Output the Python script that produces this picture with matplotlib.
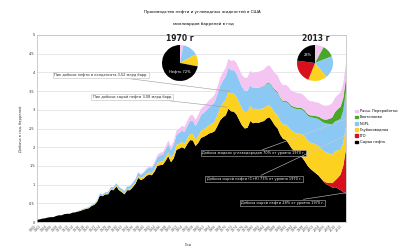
import matplotlib
matplotlib.use("Agg")
import matplotlib.pyplot as plt
from matplotlib.patches import Patch
import numpy as np

years = list(range(1900, 2014))

crude = [0.06,0.07,0.09,0.10,0.12,0.13,0.13,0.16,0.18,0.18,
         0.21,0.22,0.22,0.25,0.26,0.28,0.30,0.33,0.35,0.37,
         0.43,0.46,0.54,0.71,0.69,0.74,0.74,0.86,0.85,0.95,
         0.85,0.80,0.74,0.85,0.85,0.93,1.02,1.18,1.12,1.16,
         1.23,1.27,1.25,1.35,1.50,1.52,1.53,1.63,1.76,1.60,
         1.70,1.93,1.96,2.00,1.96,2.09,2.19,2.18,2.03,2.12,
         2.25,2.28,2.32,2.37,2.39,2.43,2.57,2.72,2.80,2.85,
         3.03,2.96,2.95,2.87,2.72,2.58,2.50,2.52,2.70,2.64,
         2.66,2.65,2.68,2.70,2.77,2.80,2.70,2.58,2.50,2.33,
         2.22,2.20,2.10,1.98,1.90,1.83,1.78,1.72,1.62,1.50,
         1.42,1.36,1.30,1.24,1.15,1.06,1.00,0.97,0.92,0.93,
         0.90,0.85,0.80,0.75]

lto = [0]*105 + [0.03,0.05,0.08,0.12,0.18,0.28,0.42,0.70,1.20]

cond = [0]*10 + \
       [0,0,0,0,0,0.005,0.01,0.01,0.01,0.01,
        0.01,0.01,0.015,0.02,0.02,0.02,0.02,0.025,0.03,0.03,
        0.03,0.03,0.03,0.035,0.035,0.04,0.045,0.05,0.05,0.055,
        0.06,0.06,0.06,0.07,0.08,0.09,0.09,0.10,0.11,0.11,
        0.12,0.13,0.13,0.14,0.14,0.15,0.16,0.17,0.17,0.18,
        0.19,0.20,0.21,0.22,0.24,0.26,0.30,0.34,0.38,0.42,
        0.46,0.47,0.48,0.47,0.46,0.45,0.44,0.42,0.40,0.38,
        0.37,0.36,0.35,0.34,0.33,0.33,0.33,0.34,0.35,0.36,
        0.38,0.41,0.44,0.47,0.50,0.54,0.58,0.62,0.66,0.68,
        0.70,0.74,0.77,0.79,0.80,0.80,0.80,0.78,0.76,0.78,
        0.74,0.66,0.62,0.60]

ngpl = [0]*10 + \
       [0,0,0,0,0.005,0.01,0.01,0.015,0.015,0.02,
        0.02,0.02,0.025,0.03,0.03,0.035,0.04,0.045,0.05,0.06,
        0.06,0.06,0.06,0.065,0.07,0.075,0.08,0.09,0.09,0.10,
        0.11,0.12,0.13,0.14,0.15,0.17,0.18,0.20,0.22,0.22,
        0.24,0.27,0.29,0.30,0.31,0.33,0.35,0.36,0.37,0.40,
        0.42,0.44,0.46,0.48,0.50,0.52,0.55,0.58,0.60,0.62,
        0.63,0.63,0.63,0.62,0.60,0.58,0.57,0.57,0.56,0.56,
        0.56,0.57,0.57,0.58,0.59,0.58,0.58,0.59,0.60,0.60,
        0.60,0.61,0.62,0.63,0.64,0.65,0.66,0.66,0.65,0.66,
        0.68,0.69,0.70,0.72,0.74,0.76,0.78,0.79,0.80,0.80,
        0.80,0.82,0.86,0.95]

bio = [0]*81 + \
      [0.005,0.01,0.015,0.02,0.025,0.025,0.03,0.03,0.03,
       0.03,0.03,0.035,0.035,0.04,0.04,0.035,0.04,0.045,0.045,
       0.05,0.055,0.06,0.07,0.08,0.09,0.11,0.14,0.20,0.25,
       0.30,0.33,0.33,0.35]

gain = [0]*30 + \
       [0,0,0,0,0,0.005,0.01,0.015,0.02,0.02,
        0.03,0.035,0.04,0.05,0.06,0.07,0.07,0.08,0.09,0.09,
        0.10,0.11,0.12,0.13,0.13,0.14,0.15,0.15,0.16,0.17,
        0.17,0.18,0.18,0.19,0.19,0.20,0.20,0.21,0.22,0.23,
        0.24,0.25,0.27,0.29,0.30,0.32,0.34,0.36,0.38,0.40,
        0.42,0.43,0.44,0.44,0.45,0.45,0.45,0.44,0.44,0.43,
        0.42,0.42,0.41,0.40,0.40,0.39,0.39,0.38,0.38,0.38,
        0.38,0.38,0.37,0.37,0.37,0.37,0.37,0.37,0.38,0.38,
        0.38,0.38,0.39,0.40]

series_names = ["Сырая нефть", "LTO", "Глубоководная", "NGPL", "Биотопливо", "Расш. Переработки"]
colors = ["#000000", "#d8101c", "#fdd120", "#8cc8f4", "#4aa62a", "#f4c4f2"]

pie1970_vals = [3, 14, 11, 72]
pie1970_cols = ["#f4c4f2", "#8cc8f4", "#fdd120", "#000000"]
pie2013_vals = [8, 11, 20, 17, 21, 23]
pie2013_cols = ["#f4c4f2", "#4aa62a", "#8cc8f4", "#fdd120", "#d8101c", "#000000"]

W, H = 398, 246
fig = plt.figure(figsize=(W/100, H/100), dpi=100)
fig.patch.set_facecolor("white")

def px(x0, y0, x1, y1):
    return [x0/W, 1 - y1/H, (x1-x0)/W, (y1-y0)/H]

ax = fig.add_axes(px(37, 35, 346, 222))
ax.stackplot(years, crude, lto, cond, ngpl, bio, gain, colors=colors, linewidth=0)
ax.set_xlim(1900, 2013)
ax.set_ylim(0, 5)
ax.set_yticks(np.arange(0, 5.01, 0.5))
ax.set_yticklabels(["0", "0.5", "1", "1.5", "2", "2.5", "3", "3.5", "4", "4.5", "5"], fontsize=2.6, color="#333333")
ax.set_xticks(list(range(1900, 2013, 2)))
ax.set_xticklabels([str(y) for y in range(1900, 2013, 2)], rotation=45, fontsize=2.3, color="#555555", ha="right")
ax.tick_params(length=0, pad=1.5)
ax.grid(axis="y", color="#dddddd", linewidth=0.5)
ax.set_axisbelow(True)
for s in ax.spines.values():
    s.set_color("#bbbbbb")
    s.set_linewidth(0.5)
ax.set_xlabel("Год", fontsize=2.6, color="#333333", labelpad=4)
ax.xaxis.set_label_coords(0.49, -0.11)
ax.set_ylabel("Добыча в год, баррелей", fontsize=2.6, color="#333333", labelpad=4)

fig.text(202/W, 1-12/H, "Производство нефти и углеводных жидкостей в США", fontsize=3, ha="center", va="center")
fig.text(203/W, 1-24/H, "миллиардов баррелей в год", fontsize=3, ha="center", va="center")

def note(text, xy, xytext, dark=False):
    ax.annotate(text, xy=xy, xytext=xytext, textcoords="data", fontsize=2.5,
                color="white" if dark else "#222222", va="center", ha="left",
                bbox=dict(boxstyle="square,pad=0.3", fc="black" if dark else "white",
                          ec="#bbbbbb", lw=0.4),
                arrowprops=dict(arrowstyle="-", color="#999999" if not dark else "#cccccc", lw=0.4,
                                shrinkA=0, shrinkB=0))

note("Пик добычи нефти и конденсата 3,52 млрд барр.", (1970.5, 3.49), (1906.3, 3.93))
note("Пик добычи сырой нефти 3,08 млрд барр.", (1969.5, 3.07), (1920.3, 3.35))
note("Добыча жидких углеводородов 70% от уровня 1970 г.", (2013, 2.75), (1960.2, 1.84), dark=True)
note("Добыча сырой нефти (С+К) 73% от уровня 1970 г.", (2012.5, 2.3), (1962.0, 1.16), dark=True)
note("Добыча сырой нефти 28% от уровня 1970 г.", (2012.8, 0.78), (1974.5, 0.52), dark=True)

handles = [Patch(color=c, label=n) for c, n in zip(colors, series_names)][::-1]
fig.legend(handles=handles, loc="upper left", bbox_to_anchor=(352/W, 1-106/H), fontsize=2.6,
           frameon=False, handlelength=0.7, handleheight=0.7, labelspacing=0.6, handletextpad=0.6)

# pies
pa = fig.add_axes(px(162, 45, 198, 81))
pa.pie(pie1970_vals, colors=pie1970_cols, startangle=90, counterclock=False,
       wedgeprops=dict(linewidth=0), radius=1)
pa.text(0, -0.5, "Нефть 72%", color="white", fontsize=2.6, ha="center", va="center")
pa.set_xlim(-1, 1); pa.set_ylim(-1, 1)
pa.set_aspect("equal")
fig.text(180/W, 1-38/H, "1970 г", fontsize=5.5, fontweight="bold", ha="center", va="center", color="#222222")

pb = fig.add_axes(px(297, 45, 333, 81))
pb.pie(pie2013_vals, colors=pie2013_cols, startangle=90, counterclock=False,
       wedgeprops=dict(linewidth=0), radius=1)
pb.text(-0.42, 0.45, "23%", color="white", fontsize=2.6, ha="center", va="center")
pb.set_xlim(-1, 1); pb.set_ylim(-1, 1)
pb.set_aspect("equal")
fig.text(316/W, 1-38/H, "2013 г", fontsize=5.5, fontweight="bold", ha="center", va="center", color="#222222")

fig.savefig("out.png", dpi=100)
